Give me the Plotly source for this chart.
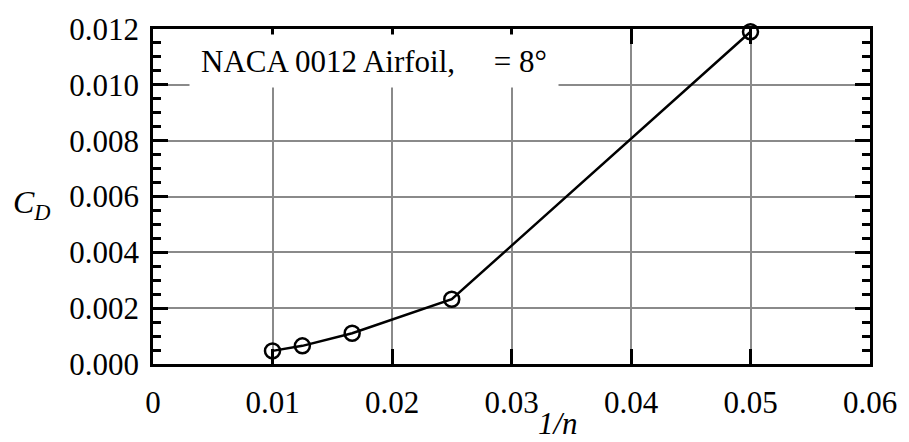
import plotly.graph_objects as go

inv_n = [0.01, 0.0125, 0.016667, 0.025, 0.05]
cd = [0.00047, 0.00065, 0.0011, 0.00232, 0.0119]

x_tickvals = [0, 0.01, 0.02, 0.03, 0.04, 0.05, 0.06]
x_ticktext = ["0", "0.01", "0.02", "0.03", "0.04", "0.05", "0.06"]
y_tickvals = [0, 0.002, 0.004, 0.006, 0.008, 0.010, 0.012]
y_ticktext = ["0.000", "0.002", "0.004", "0.006", "0.008", "0.010", "0.012"]

FONT = "Liberation Serif, Times New Roman, serif"

fig = go.Figure()
fig.add_trace(go.Scatter(
    x=inv_n, y=cd, mode="lines+markers",
    line=dict(color="black", width=2.5),
    marker=dict(symbol="circle-open", size=15, color="black", line=dict(width=2.5, color="black")),
    showlegend=False, cliponaxis=False,
))

axis_common = dict(
    showline=True, linecolor="black", linewidth=2.5, mirror="ticks",
    ticks="inside", ticklen=15, tickwidth=2.5, tickcolor="black",
    showgrid=True, gridcolor="#8a8a8a", gridwidth=2, zeroline=False,
    tickfont=dict(family=FONT, size=31, color="black"),
)

fig.update_xaxes(
    range=[0, 0.06], tickmode="array", tickvals=x_tickvals, ticktext=x_ticktext,
    ticklabelstandoff=9, **axis_common,
)
fig.update_yaxes(
    range=[0, 0.012], tickmode="array", tickvals=y_tickvals, ticktext=y_ticktext,
    ticklabelstandoff=5,
    minor=dict(ticks="inside", ticklen=8, tickwidth=2.5, tickcolor="black", dtick=0.0005, tick0=0, showgrid=False),
    **axis_common,
)

fig.add_annotation(
    text="NACA 0012 Airfoil,\u00a0\u00a0\u00a0\u00a0\u00a0= 8°",
    xref="paper", yref="paper", x=0.308, y=0.903, xanchor="center", yanchor="middle",
    showarrow=False, bgcolor="white", width=366, height=50,
    font=dict(family=FONT, size=31, color="black"),
)
fig.add_annotation(
    text="<i>C</i><sub><i>D</i></sub>",
    xref="paper", yref="paper", x=-0.198, y=0.475, xanchor="left", yanchor="middle",
    showarrow=False, font=dict(family=FONT, size=32, color="black"),
)
fig.add_annotation(
    text="<i>1/n</i>",
    xref="paper", yref="paper", x=0.565, y=-0.179, xanchor="center", yanchor="middle",
    showarrow=False, font=dict(family=FONT, size=31, color="black"),
)

fig.update_layout(
    width=909, height=442,
    margin=dict(l=153, r=34, t=23, b=78),
    paper_bgcolor="white", plot_bgcolor="white",
)

fig.write_html("out.html")
